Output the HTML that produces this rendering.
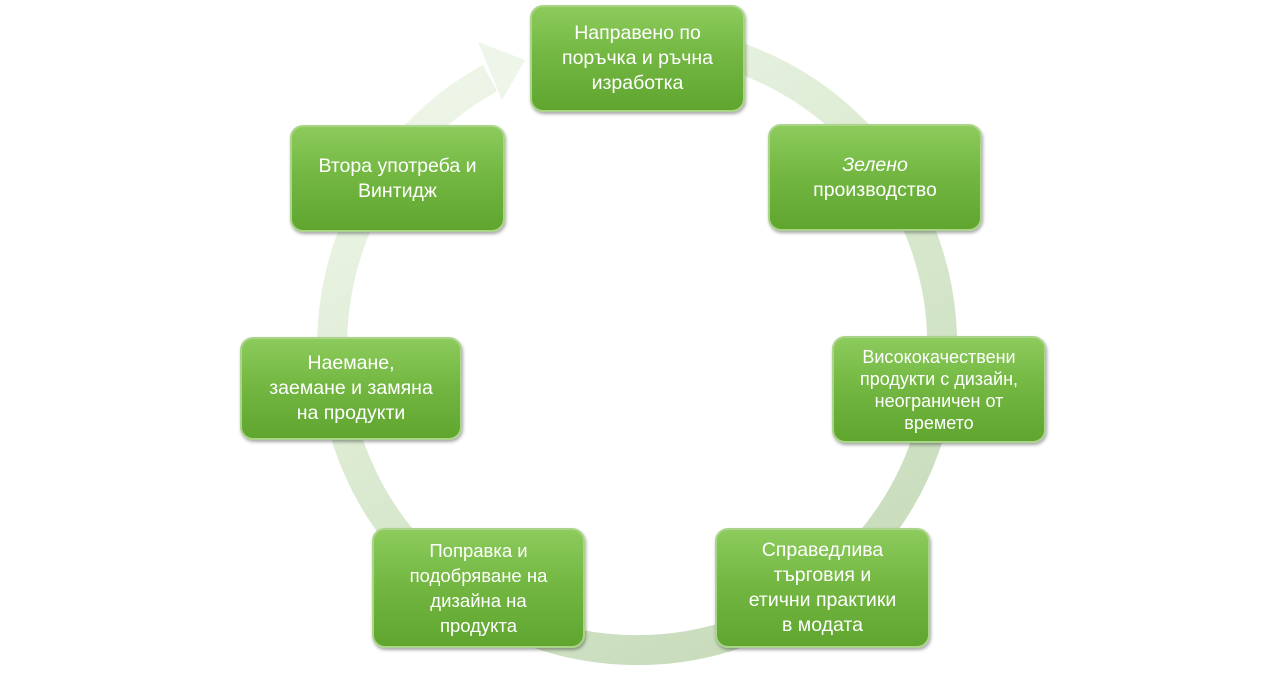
<!DOCTYPE html>
<html><head><meta charset="utf-8"><style>
body{margin:0;width:1273px;height:675px;background:#fff;position:relative;overflow:hidden;font-family:"Liberation Sans","DejaVu Sans",sans-serif}
.b{position:absolute;box-sizing:border-box;border-radius:13px;border:2px solid #a9d48a;
background:linear-gradient(#8ccb5c 0%,#74b843 45%,#5fa52e 100%);box-shadow:1px 2px 3px rgba(0,0,0,.35);
color:#fff;display:flex;align-items:center;justify-content:center;text-align:center;font-size:19.5px;line-height:25px}
</style></head><body>
<svg width="1273" height="675" style="position:absolute;left:0;top:0">
<defs><linearGradient id="g" x1="0" y1="0" x2="0.6" y2="1">
<stop offset="0" stop-color="#f2f8ee"/><stop offset="0.5" stop-color="#dcebd2"/><stop offset="1" stop-color="#c9ddbd"/></linearGradient></defs>
<path d="M 740 58 A 305 305 0 1 1 490 78" fill="none" stroke="url(#g)" stroke-width="30"/>
<polygon points="478,42 525,60 502,100" fill="#eef6ea"/>
</svg>
<div class="b" style="left:530px;top:5px;width:215px;height:107px">Направено по<br>поръчка и ръчна<br>изработка</div>
<div class="b" style="left:768px;top:124px;width:214px;height:107px"><span><i>Зелено</i><br>производство</span></div>
<div class="b" style="left:832px;top:336px;width:214px;height:107px;font-size:18px;line-height:22px">Висококачествени<br>продукти с дизайн,<br>неограничен от<br>времето</div>
<div class="b" style="left:715px;top:528px;width:215px;height:120px">Справедлива<br>търговия и<br>етични практики<br>в модата</div>
<div class="b" style="left:372px;top:528px;width:213px;height:120px;font-size:18.5px">Поправка и<br>подобряване на<br>дизайна на<br>продукта</div>
<div class="b" style="left:240px;top:337px;width:222px;height:103px">Наемане,<br>заемане и замяна<br>на продукти</div>
<div class="b" style="left:290px;top:125px;width:215px;height:107px">Втора употреба и<br>Винтидж</div>
</body></html>
